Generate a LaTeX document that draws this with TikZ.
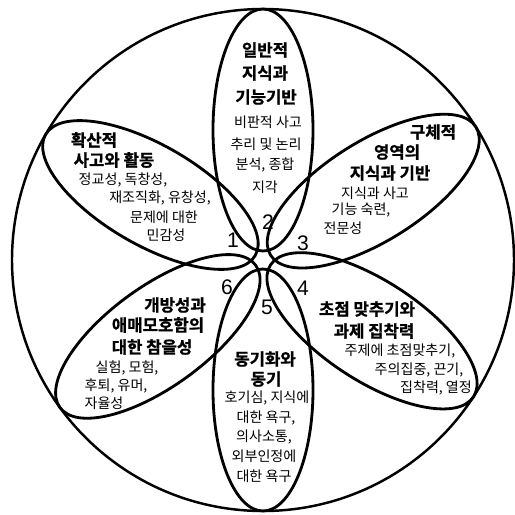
\documentclass[tikz,border=0pt]{standalone}
\usepackage{fontspec}
\setmainfont{Liberation Sans}
\newfontfamily\kr[BoldFont={Noto Sans CJK KR Bold}, BoldFeatures={FakeBold=1}]{Noto Sans CJK KR}
\usepackage{tikz}
\tikzset{
  ring/.style={draw=black, line width=1.4pt},
  petal/.style={draw=black, line width=1.6pt},
  headtxt/.style={font=\kr\bfseries\fontsize{9.5}{11}\selectfont, inner sep=0pt},
  bodytxt/.style={font=\kr\fontsize{8}{10}\selectfont, inner sep=0pt},
  numtxt/.style={font=\fontsize{12}{14}\selectfont, inner sep=0pt},
}

\begin{document}
\begin{tikzpicture}[x=0.02cm,y=0.02cm]
    \useasboundingbox (0,0) rectangle (515,-515);

    % outer circle
    \draw[ring] (263,-260) circle (251);

    % six petals round the centre
    \foreach \a in {90,32,-33,-90,-144,150}
        \draw[petal, rotate around={\a:(263,-260)}] (393,-260) ellipse (121 and 50);

    % petal numbers
    \node[numtxt] (n1) at (233,-240) {1};
    \node[numtxt] (n2) at (268,-222) {2};
    \node[numtxt] (n3) at (303,-243) {3};
    \node[numtxt] (n4) at (303,-288) {4};
    \node[numtxt] (n5) at (267,-307) {5};
    \node[numtxt] (n6) at (227,-287) {6};

    % petal 2: general knowledge
    \foreach \x/\y/\t [count=\i] in {265/50/일반적, 265/73/지식과, 266/97/기능기반}
        \node[headtxt] (gen-h\i) at (\x,-\y) {\t};
    \foreach \x/\y/\t [count=\i] in {268/122/비판적 사고, 266/144/추리 및 논리, 265/165/{분석, 종합}, 265/187/지각}
        \node[bodytxt] (gen-b\i) at (\x,-\y) {\t};

    % petal 3: domain knowledge
    \foreach \x/\y/\t [count=\i] in {433/132/구체적, 397/152/영역의, 390/173/지식과 기반}
        \node[headtxt] (dom-h\i) at (\x,-\y) {\t};
    \foreach \x/\y/\t [count=\i] in {375/193/지식과 사고, 361/210/{기능 숙련,}, 343/228/전문성}
        \node[bodytxt] (dom-b\i) at (\x,-\y) {\t};

    % petal 1: divergent thinking
    \foreach \x/\y/\t [count=\i] in {94/140/확산적, 114/160/사고와 활동}
        \node[headtxt] (div-h\i) at (\x,-\y) {\t};
    \foreach \x/\y/\t [count=\i] in {123/180/{정교성, 독창성,}, 160/198/{재조직화, 유창성,}, 164/217/문제에 대한, 166/235/민감성}
        \node[bodytxt] (div-b\i) at (\x,-\y) {\t};

    % petal 6: openness
    \foreach \x/\y/\t [count=\i] in {175/305/개방성과, 158/325/애매모호함의, 152/347/대한 참을성}
        \node[headtxt] (opn-h\i) at (\x,-\y) {\t};
    \foreach \x/\y/\t [count=\i] in {127/368/{실험, 모험,}, 116/386/{후퇴, 유머,}, 104/403/자율성}
        \node[bodytxt] (opn-b\i) at (\x,-\y) {\t};

    % petal 4: focus and task commitment
    \foreach \x/\y/\t [count=\i] in {367/309/초점 맞추기와, 374/331/과제 집착력}
        \node[headtxt] (foc-h\i) at (\x,-\y) {\t};
    \foreach \x/\y/\t [count=\i] in {400/351/{주제에 초점맞추기,}, 419/370/{주의집중, 끈기,}, 436/388/{집착력, 열정}}
        \node[bodytxt] (foc-b\i) at (\x,-\y) {\t};

    % petal 5: motivation
    \foreach \x/\y/\t [count=\i] in {265/359/동기화와, 266/379/동기}
        \node[headtxt] (mot-h\i) at (\x,-\y) {\t};
    \foreach \x/\y/\t [count=\i] in {267/398/{호기심, 지식에}, 266/418/{대한 욕구,}, 264/437/{의사소통,}, 264/456/외부인정에, 264/476/대한 욕구}
        \node[bodytxt] (mot-b\i) at (\x,-\y) {\t};
\end{tikzpicture}
\end{document}
